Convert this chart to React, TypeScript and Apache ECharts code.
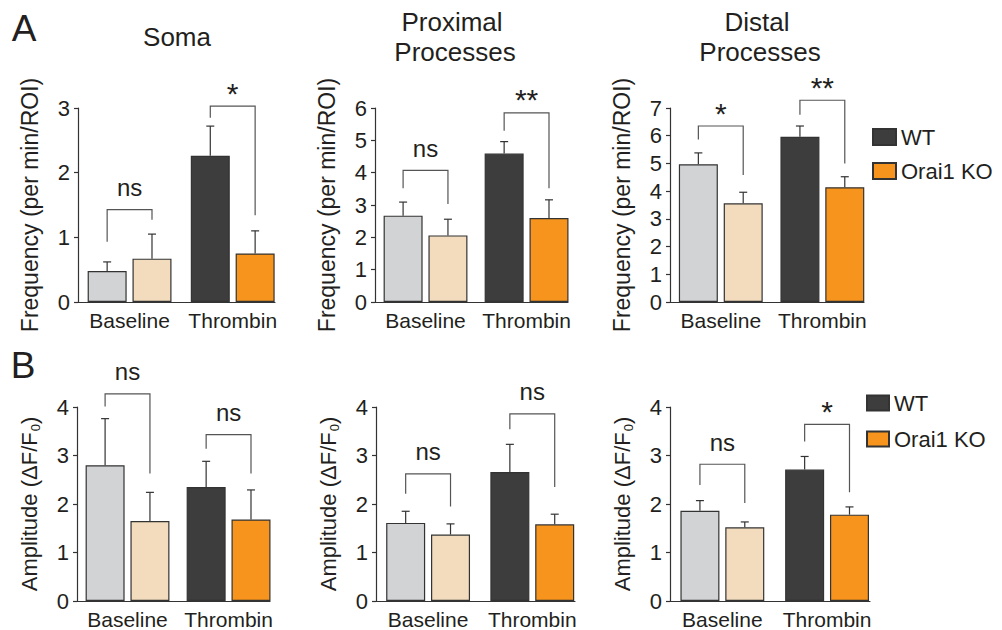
import React, { useEffect, useRef } from "react";
import * as echarts from "echarts";

const categories = ["Baseline", "Thrombin"];
const seriesNames = ["WT", "Orai1 KO"];

// A: Frequency (per min/ROI)
const somaFreqWT = [0.48, 2.26];
const somaFreqWTSem = [0.14, 0.46];
const somaFreqKO = [0.67, 0.75];
const somaFreqKOSem = [0.38, 0.35];
const somaFreqBrackets = [[1.43, 0.93, 1.27], [3.03, 2.85, 1.34]];
const somaFreqSig = ["ns", "*"];

const proxFreqWT = [2.67, 4.59];
const proxFreqWTSem = [0.42, 0.37];
const proxFreqKO = [2.06, 2.6];
const proxFreqKOSem = [0.5, 0.56];
const proxFreqBrackets = [[4.07, 3.52, 3.03], [5.85, 5.3, 3.52]];
const proxFreqSig = ["ns", "**"];

const distFreqWT = [4.97, 5.96];
const distFreqWTSem = [0.41, 0.39];
const distFreqKO = [3.56, 4.14];
const distFreqKOSem = [0.4, 0.38];
const distFreqBrackets = [[6.35, 5.86, 4.58], [7.28, 6.76, 5.0]];
const distFreqSig = ["*", "**"];

// B: Amplitude (dF/F0)
const somaAmpWT = [2.8, 2.35];
const somaAmpWTSem = [0.96, 0.53];
const somaAmpKO = [1.65, 1.68];
const somaAmpKOSem = [0.59, 0.61];
const somaAmpBrackets = [[4.27, 4.01, 2.63], [3.43, 3.14, 2.63]];
const somaAmpSig = ["ns", "ns"];

const proxAmpWT = [1.61, 2.66];
const proxAmpWTSem = [0.24, 0.57];
const proxAmpKO = [1.37, 1.58];
const proxAmpKOSem = [0.22, 0.21];
const proxAmpBrackets = [[2.62, 2.21, 1.95], [3.86, 3.54, 2.35]];
const proxAmpSig = ["ns", "ns"];

const distAmpWT = [1.86, 2.71];
const distAmpWTSem = [0.21, 0.27];
const distAmpKO = [1.52, 1.78];
const distAmpKOSem = [0.11, 0.16];
const distAmpBrackets = [[2.82, 2.39, 2.02], [3.64, 3.29, 2.24]];
const distAmpSig = ["ns", "*"];

const freqMax = [3, 6, 7];
const ampMax = [4, 4, 4];

const FONT = "'Liberation Sans', Arial, Helvetica, sans-serif";
const TEXT = "#231f20";
const AXIS = "#333333";
const WT_COLORS = ["#d1d3d4", "#3d3d3d"];
const KO_COLORS = ["#f3dcbd", "#f7941d"];
const BAR_W = 39;
const GAP_PCT = 0.15;
const OFF = (BAR_W + BAR_W * GAP_PCT) / 2;

const panels = [
  { wt: somaFreqWT, wtSem: somaFreqWTSem, ko: somaFreqKO, koSem: somaFreqKOSem, br: somaFreqBrackets, sig: somaFreqSig, max: freqMax[0], row: 0 },
  { wt: proxFreqWT, wtSem: proxFreqWTSem, ko: proxFreqKO, koSem: proxFreqKOSem, br: proxFreqBrackets, sig: proxFreqSig, max: freqMax[1], row: 0 },
  { wt: distFreqWT, wtSem: distFreqWTSem, ko: distFreqKO, koSem: distFreqKOSem, br: distFreqBrackets, sig: distFreqSig, max: freqMax[2], row: 0 },
  { wt: somaAmpWT, wtSem: somaAmpWTSem, ko: somaAmpKO, koSem: somaAmpKOSem, br: somaAmpBrackets, sig: somaAmpSig, max: ampMax[0], row: 1 },
  { wt: proxAmpWT, wtSem: proxAmpWTSem, ko: proxAmpKO, koSem: proxAmpKOSem, br: proxAmpBrackets, sig: proxAmpSig, max: ampMax[1], row: 1 },
  { wt: distAmpWT, wtSem: distAmpWTSem, ko: distAmpKO, koSem: distAmpKOSem, br: distAmpBrackets, sig: distAmpSig, max: ampMax[2], row: 1 },
];

const grids = [
  { left: 78, top: 108, width: 197, height: 194 },
  { left: 375, top: 108, width: 193, height: 194 },
  { left: 670, top: 108, width: 194, height: 194 },
  { left: 77, top: 407, width: 193, height: 195 },
  { left: 376, top: 407, width: 199, height: 195 },
  { left: 670, top: 407, width: 200, height: 195 },
];

function buildOption() {
  const xAxis: any[] = [];
  const yAxis: any[] = [];
  const series: any[] = [];

  panels.forEach((p, i) => {
    xAxis.push({
      type: "value",
      gridIndex: i,
      min: -0.5,
      max: 1.41,
      interval: 0.5,
      splitLine: { show: false },
      axisTick: { show: false },
      axisLine: { show: true, onZero: false, lineStyle: { color: AXIS, width: 1.2 } },
      axisLabel: {
        color: TEXT,
        fontSize: 21,
        fontFamily: FONT,
        margin: 8,
        showMinLabel: false,
        showMaxLabel: false,
        formatter: (v: number) => (Number.isInteger(v) && categories[v] ? categories[v] : ""),
      },
    });
    yAxis.push({
      type: "value",
      gridIndex: i,
      min: 0,
      max: p.max,
      interval: 1,
      splitLine: { show: false },
      axisLine: { show: true, onZero: false, lineStyle: { color: AXIS, width: 1.2 } },
      axisTick: { show: true, length: 4, lineStyle: { color: AXIS, width: 1.2 } },
      axisLabel: { color: TEXT, fontSize: 22, fontFamily: FONT, margin: 8 },
      name: p.row === 0 ? "Frequency (per min/ROI)" : "{a|Amplitude (ΔF/F}{s|0}{a|)}",
      nameLocation: "middle",
      nameRotate: 90,
      nameGap: p.row === 0 ? 37 : 35,
      nameTextStyle: {
        color: TEXT,
        fontSize: p.row === 0 ? 23 : 22,
        fontFamily: FONT,
        rich: {
          a: { fontSize: 22, fontFamily: FONT, color: TEXT },
          s: { fontSize: 13, fontFamily: FONT, color: TEXT, verticalAlign: "bottom", padding: [12, 0, 0, 1] },
        },
      },
    });

    series.push({
      type: "bar",
      name: seriesNames[0],
      xAxisIndex: i,
      yAxisIndex: i,
      barWidth: BAR_W,
      barGap: GAP_PCT * 100 + "%",
      itemStyle: { color: WT_COLORS[1], borderColor: AXIS, borderWidth: 1.2 },
      data: p.wt.map((v, k) => ({ value: [k, v], itemStyle: { color: WT_COLORS[k] } })),
    });
    series.push({
      type: "bar",
      name: seriesNames[1],
      xAxisIndex: i,
      yAxisIndex: i,
      barWidth: BAR_W,
      barGap: GAP_PCT * 100 + "%",
      itemStyle: { color: KO_COLORS[1], borderColor: AXIS, borderWidth: 1.2 },
      data: p.ko.map((v, k) => ({ value: [k, v], itemStyle: { color: KO_COLORS[k] } })),
    });

    // error bars
    const errData: number[][] = [];
    p.wt.forEach((v, k) => errData.push([k, v, p.wtSem[k], -1]));
    p.ko.forEach((v, k) => errData.push([k, v, p.koSem[k], 1]));
    series.push({
      type: "custom",
      xAxisIndex: i,
      yAxisIndex: i,
      silent: true,
      clip: false,
      z: 3,
      encode: { x: 0, y: 1 },
      data: errData,
      renderItem: (params: any, api: any) => {
        const x = api.value(0);
        const m = api.value(1);
        const s = api.value(2);
        const side = api.value(3);
        const b = api.coord([x, m]);
        const t = api.coord([x, m + s]);
        const cx = b[0] + side * OFF;
        const st = { stroke: AXIS, lineWidth: 1.2 };
        return {
          type: "group",
          children: [
            { type: "line", shape: { x1: cx, y1: b[1], x2: cx, y2: t[1] }, style: st },
            { type: "line", shape: { x1: cx - 4, y1: t[1], x2: cx + 4, y2: t[1] }, style: st },
          ],
        };
      },
    });

    // significance brackets
    const brData = p.br.map((b, k) => [k, b[0], b[1], b[2]]);
    const sig = p.sig;
    series.push({
      type: "custom",
      xAxisIndex: i,
      yAxisIndex: i,
      silent: true,
      clip: false,
      z: 3,
      encode: { x: 0, y: 1 },
      data: brData,
      renderItem: (params: any, api: any) => {
        const x = api.value(0);
        const T = api.coord([x, api.value(1)]);
        const L = api.coord([x, api.value(2)]);
        const R = api.coord([x, api.value(3)]);
        const lx = T[0] - OFF;
        const rx = T[0] + OFF;
        const label = sig[params.dataIndex];
        const isNs = label === "ns";
        return {
          type: "group",
          children: [
            {
              type: "polyline",
              shape: { points: [[lx, L[1]], [lx, T[1]], [rx, T[1]], [rx, R[1]]] },
              style: { stroke: "#555555", lineWidth: 1.2, fill: null },
            },
            {
              type: "text",
              x: T[0],
              y: T[1] - (isNs ? 22 : 13),
              style: {
                text: label,
                fill: TEXT,
                fontSize: isNs ? 24 : 30,
                fontFamily: FONT,
                align: "center",
                verticalAlign: "middle",
              },
            },
          ],
        };
      },
    });
  });

  const txt = (text: string, x: number, y: number, size: number) => ({
    type: "text",
    x,
    y,
    style: { text, fill: TEXT, fontSize: size, fontFamily: FONT, align: "center", verticalAlign: "middle" },
  });

  return {
    animation: false,
    backgroundColor: "#ffffff",
    grid: grids.map((g) => ({ ...g, containLabel: false })),
    xAxis,
    yAxis,
    series,
    legend: [
      {
        data: seriesNames,
        orient: "vertical",
        left: 872,
        top: 126,
        padding: 0,
        itemWidth: 23,
        itemHeight: 16,
        itemGap: 12,
        icon: "rect",
        selectedMode: false,
        textStyle: { color: TEXT, fontSize: 22, fontFamily: FONT },
      },
      {
        data: seriesNames,
        orient: "vertical",
        left: 866,
        top: 392,
        padding: 0,
        itemWidth: 22,
        itemHeight: 15,
        itemGap: 14,
        icon: "rect",
        selectedMode: false,
        textStyle: { color: TEXT, fontSize: 22, fontFamily: FONT },
      },
    ],
    graphic: [
      txt("A", 24, 28, 37),
      txt("B", 23, 365, 37),
      txt("Soma", 177, 37, 26),
      txt("Proximal", 452, 22, 26),
      txt("Processes", 455, 52, 26),
      txt("Distal", 757, 22, 26),
      txt("Processes", 760, 52, 26),
    ],
  };
}

export default function App() {
  const ref = useRef<HTMLDivElement>(null);
  useEffect(() => {
    if (!ref.current) return;
    const chart = echarts.init(ref.current, undefined, { renderer: "svg" });
    chart.setOption(buildOption() as any);
    return () => chart.dispose();
  }, []);
  return <div ref={ref} style={{ width: 1002, height: 630, position: "absolute", left: 0, top: 0 }} />;
}
